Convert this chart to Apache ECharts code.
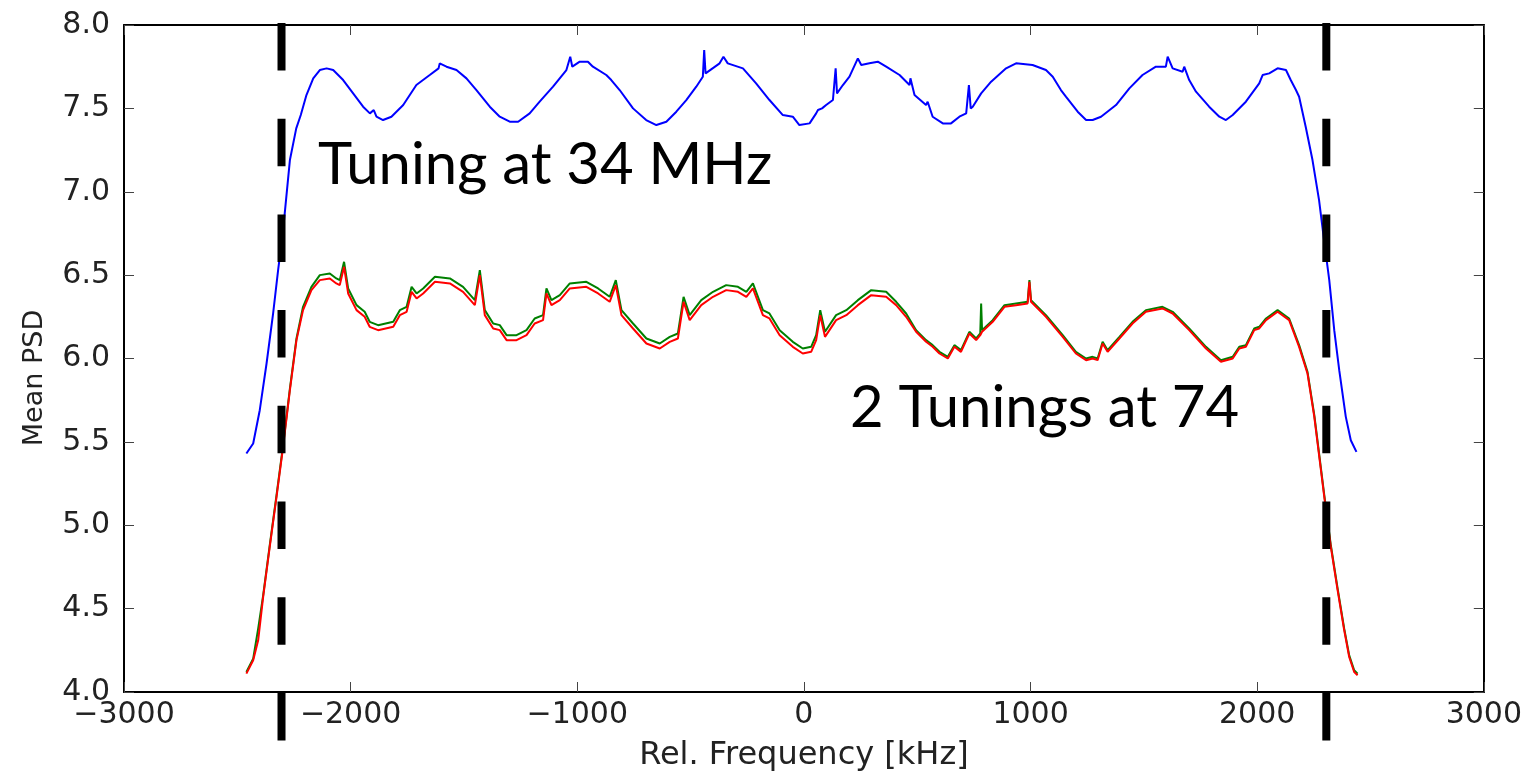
<!DOCTYPE html>
<html>
<head>
<meta charset="utf-8">
<script src="https://cdn.jsdelivr.net/npm/echarts@6/dist/echarts.min.js"></script>
<style>
html,body{margin:0;padding:0;background:#fff;}
#chart{width:1525px;height:777px;}
</style>
</head>
<body>
<div id="chart"></div>
<script>
// ---- Data ----
const blueFreq = [-2460,-2430,-2401,-2371,-2342,-2320,-2298,-2268,-2240,-2220,-2195,-2165,-2136,-2106,-2077,-2033,-1989,-1945,-1915,-1898,-1886,-1857,-1820,-1768,-1710,-1651,-1612,-1607,-1577,-1533,-1489,-1445,-1386,-1342,-1298,-1261,-1210,-1166,-1107,-1048,-1031,-1022,-989,-953,-931,-872,-850,-813,-754,-696,-651,-607,-563,-519,-475,-446,-440,-434,-372,-355,-336,-269,-211,-152,-93,-49,-20,25,54,62,80,98,128,140,146,172,201,238,253,289,326,363,422,466,470,488,539,546,568,613,649,686,716,728,736,745,782,826,892,936,1009,1068,1098,1134,1156,1208,1245,1274,1311,1377,1436,1494,1553,1597,1605,1627,1671,1678,1700,1730,1788,1833,1862,1892,1950,2009,2024,2053,2090,2127,2148,2171,2185,2214,2244,2273,2296,2318,2340,2362,2391,2413,2438];
const bluePSD = [5.43,5.49,5.69,5.97,6.27,6.53,6.77,7.19,7.38,7.46,7.58,7.68,7.73,7.74,7.73,7.67,7.59,7.51,7.47,7.49,7.45,7.43,7.45,7.52,7.64,7.70,7.74,7.77,7.75,7.73,7.68,7.61,7.51,7.45,7.42,7.42,7.47,7.54,7.63,7.73,7.81,7.75,7.78,7.78,7.75,7.70,7.67,7.61,7.50,7.43,7.40,7.42,7.48,7.55,7.63,7.69,7.85,7.71,7.77,7.81,7.77,7.74,7.65,7.55,7.46,7.45,7.40,7.41,7.47,7.49,7.50,7.52,7.55,7.74,7.59,7.64,7.69,7.80,7.76,7.77,7.78,7.75,7.70,7.64,7.68,7.58,7.52,7.54,7.45,7.41,7.41,7.45,7.47,7.64,7.50,7.51,7.59,7.66,7.74,7.77,7.76,7.73,7.69,7.61,7.57,7.48,7.43,7.43,7.45,7.52,7.62,7.70,7.75,7.75,7.81,7.74,7.72,7.75,7.67,7.60,7.51,7.45,7.43,7.46,7.54,7.65,7.70,7.71,7.74,7.73,7.67,7.61,7.57,7.39,7.19,6.95,6.70,6.47,6.17,5.93,5.65,5.51,5.44];

const rgFreq = [-2460,-2430,-2408,-2386,-2357,-2327,-2298,-2268,-2239,-2210,-2173,-2136,-2092,-2063,-2048,-2029,-2011,-1974,-1938,-1916,-1879,-1812,-1783,-1753,-1731,-1709,-1680,-1628,-1562,-1504,-1452,-1430,-1408,-1371,-1342,-1312,-1268,-1224,-1188,-1151,-1136,-1114,-1077,-1033,-960,-908,-857,-830,-805,-754,-695,-636,-592,-556,-531,-504,-453,-401,-343,-291,-254,-225,-181,-152,-107,-49,-5,32,54,72,93,142,187,238,297,363,407,451,495,539,568,598,635,664,693,730,760,778,782,786,833,885,936,987,995,1002,1068,1142,1200,1245,1274,1296,1318,1340,1392,1450,1509,1582,1627,1700,1774,1840,1892,1921,1950,1987,2009,2039,2090,2141,2185,2222,2252,2274,2296,2325,2355,2384,2406,2428,2443];
const redPSD = [4.11,4.19,4.31,4.57,4.87,5.17,5.47,5.81,6.11,6.29,6.41,6.47,6.48,6.45,6.44,6.55,6.39,6.29,6.25,6.19,6.17,6.19,6.26,6.28,6.40,6.36,6.39,6.46,6.45,6.40,6.32,6.50,6.26,6.18,6.17,6.11,6.11,6.14,6.21,6.23,6.39,6.32,6.35,6.42,6.43,6.39,6.34,6.44,6.26,6.18,6.09,6.06,6.10,6.12,6.34,6.23,6.32,6.37,6.41,6.40,6.37,6.42,6.26,6.24,6.14,6.07,6.03,6.04,6.11,6.26,6.13,6.23,6.26,6.32,6.38,6.37,6.32,6.25,6.16,6.10,6.07,6.03,6.00,6.07,6.04,6.15,6.11,6.14,6.15,6.16,6.22,6.31,6.32,6.33,6.46,6.34,6.25,6.13,6.03,5.99,6.00,5.99,6.09,6.04,6.12,6.21,6.28,6.30,6.27,6.17,6.06,5.98,6.00,6.06,6.07,6.17,6.18,6.23,6.28,6.23,6.07,5.91,5.65,5.41,5.17,4.87,4.61,4.37,4.21,4.12,4.10];
const greenPSD = [4.12,4.20,4.38,4.58,4.88,5.18,5.48,5.82,6.12,6.31,6.43,6.50,6.51,6.48,6.47,6.58,6.42,6.32,6.28,6.22,6.20,6.22,6.29,6.31,6.43,6.39,6.42,6.49,6.48,6.43,6.35,6.53,6.29,6.21,6.20,6.14,6.14,6.17,6.24,6.26,6.42,6.35,6.38,6.45,6.46,6.42,6.37,6.47,6.29,6.21,6.12,6.09,6.13,6.15,6.37,6.26,6.35,6.40,6.44,6.43,6.40,6.45,6.29,6.27,6.17,6.10,6.06,6.07,6.14,6.29,6.16,6.26,6.29,6.35,6.41,6.40,6.34,6.27,6.17,6.11,6.08,6.04,6.01,6.08,6.05,6.16,6.12,6.15,6.33,6.17,6.23,6.32,6.33,6.34,6.47,6.35,6.26,6.14,6.04,6.00,6.01,6.00,6.10,6.05,6.13,6.22,6.29,6.31,6.28,6.18,6.07,5.99,6.01,6.07,6.08,6.18,6.19,6.24,6.29,6.24,6.08,5.92,5.66,5.42,5.18,4.88,4.62,4.38,4.22,4.13,4.11];

// Band-edge marker positions (kHz) and their vertical extent (PSD units)
const edgeFreqs = [-2305, 2305];
const edgeSpan = [8.012, 3.69];

const xTicks = [-3000, -2000, -1000, 0, 1000, 2000, 3000];
const yTicks = [4.0, 4.5, 5.0, 5.5, 6.0, 6.5, 7.0, 7.5, 8.0];

const annotations = ["Tuning at 34 MHz", "2 Tunings at 74"];
const xTitle = "Rel. Frequency [kHz]";
const yTitle = "Mean PSD";

// ---- Build ----
const zip = (xs, ys) => xs.map((x, i) => [x, ys[i]]);
const chart = echarts.init(document.getElementById('chart'), null, {renderer: 'canvas'});

const tickFont = {fontFamily: 'DejaVu Sans', fontSize: 30, color: '#222'};
const fmtX = v => v < 0 ? '\u2212' + Math.abs(v) : String(v);
const tickStyle = {show: true, inside: true, length: 10, lineStyle: {color: '#444', width: 1}};
const boxLine = {show: true, onZero: false, lineStyle: {color: '#000', width: 2}};

const edgeSeries = edgeFreqs.map(f => ({
  type: 'line',
  data: [[f, edgeSpan[0]], [f, edgeSpan[1]]],
  symbol: 'none',
  clip: false,
  silent: true,
  z: 10,
  lineStyle: {color: '#000', width: 8, type: [47.5, 48.2], cap: 'butt'}
}));

chart.setOption({
  animation: false,
  backgroundColor: '#fff',
  grid: {left: 124, right: 40, top: 25, bottom: 85, show: false},
  xAxis: [{
    type: 'value', min: xTicks[0], max: xTicks[xTicks.length - 1], interval: 1000,
    position: 'bottom',
    name: xTitle, nameLocation: 'middle', nameGap: 48,
    nameTextStyle: {fontFamily: 'DejaVu Sans', fontSize: 32, color: '#222'},
    axisLine: boxLine,
    axisTick: tickStyle,
    axisLabel: Object.assign({margin: 8, formatter: fmtX}, tickFont),
    splitLine: {show: false}
  }, {
    type: 'value', min: xTicks[0], max: xTicks[xTicks.length - 1], interval: 1000,
    position: 'top',
    axisLine: boxLine,
    axisTick: tickStyle,
    axisLabel: {show: false}, splitLine: {show: false}
  }],
  yAxis: [{
    type: 'value', min: yTicks[0], max: yTicks[yTicks.length - 1], interval: 0.5,
    position: 'left',
    axisLine: boxLine,
    axisTick: tickStyle,
    axisLabel: Object.assign({margin: 14, formatter: v => v.toFixed(1)}, tickFont),
    splitLine: {show: false}
  }, {
    type: 'value', min: yTicks[0], max: yTicks[yTicks.length - 1], interval: 0.5,
    position: 'right',
    axisLine: boxLine,
    axisTick: tickStyle,
    axisLabel: {show: false}, splitLine: {show: false}
  }],
  series: [
    {type: 'line', data: zip(blueFreq, bluePSD), symbol: 'none', lineStyle: {color: '#0000ff', width: 2}, z: 3},
    {type: 'line', data: zip(rgFreq, greenPSD), symbol: 'none', lineStyle: {color: '#008000', width: 2}, z: 4},
    {type: 'line', data: zip(rgFreq, redPSD), symbol: 'none', lineStyle: {color: '#ff0000', width: 2}, z: 5}
  ].concat(edgeSeries),
  graphic: [
    {type: 'text', x: 35, y: 378, rotation: Math.PI / 2, z: 20,
     style: {text: yTitle, font: '27px "DejaVu Sans"', fill: '#222', align: 'center', verticalAlign: 'middle'}},
    {type: 'text', left: 318, top: 136, z: 20, style: {text: annotations[0], font: '58px Lato', fill: '#000'}},
    {type: 'text', left: 850, top: 379, z: 20, style: {text: annotations[1], font: '58px Lato', fill: '#000'}}
  ]
});
</script>
</body>
</html>
